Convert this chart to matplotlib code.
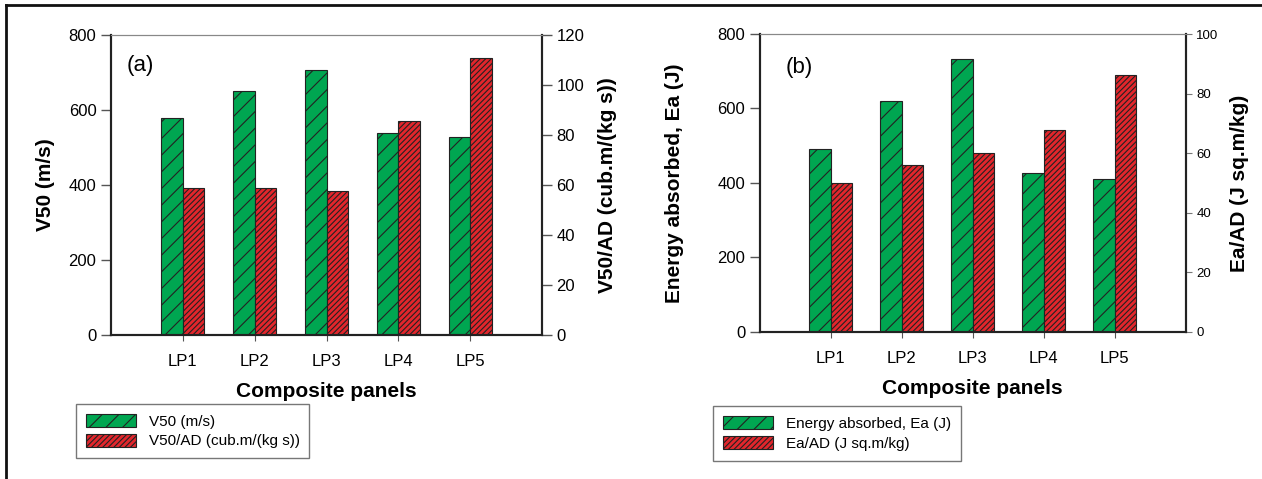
import numpy as np
import matplotlib
matplotlib.use("Agg")
import matplotlib.pyplot as plt
from matplotlib.lines import Line2D

plt.rcParams['font.family'] = ['Liberation Sans', 'DejaVu Sans']
plt.rcParams['hatch.linewidth'] = 0.8

panels = ["LP1", "LP2", "LP3", "LP4", "LP5"]

# panel (a)
v50 = [579, 650, 707, 539, 529]
v50_ad = [58.7, 58.8, 57.6, 85.6, 110.8]

# panel (b)
ea = [491, 620, 733, 427, 412]
ea_ad = [49.9, 56.1, 59.9, 67.7, 86.2]

green = "#00a651"
red = "#e2262c"
edge = "#222222"

fig = plt.figure(figsize=(12.62, 4.79), dpi=100)

x = np.arange(1, len(panels) + 1)
w = 0.3


def draw_panel(rect, left_vals, right_vals, right_lim, right_ticks,
               ylab, y2lab, tag, tag_pos, leg_labels, leg_pos, right_small,
               pad_l, pad_r):
    ax = fig.add_axes(rect)
    ax2 = ax.twinx()
    b1 = ax.bar(x - w / 2, left_vals, w, color=green, edgecolor=edge,
                hatch="//", linewidth=0.8)
    b2 = ax2.bar(x + w / 2, right_vals, w, color=red, edgecolor=edge,
                 hatch="//////", linewidth=0.8)
    ax.set_xlim(0, 6)
    ax.set_ylim(0, 800)
    ax2.set_ylim(*right_lim)
    ax.set_yticks(np.arange(0, 801, 200))
    ax2.set_yticks(right_ticks)
    ax.set_xticks(x)
    ax.set_xticklabels(panels, fontsize=12)
    ax.tick_params(axis="y", labelsize=12, direction="out", length=7,
                   width=1, color="#555555")
    ax.tick_params(axis="x", direction="out", length=4, width=0.8,
                   color="#555555", pad=10)
    if right_small:
        ax2.tick_params(axis="y", labelsize=9.5, direction="out", length=4,
                        width=0.8, color="#777777")
    else:
        ax2.tick_params(axis="y", labelsize=12, direction="out", length=7,
                        width=1, color="#555555")
    for a in (ax, ax2):
        a.spines["top"].set_color("#888888")
        a.spines["top"].set_linewidth(0.8)
        for s in ("left", "right", "bottom"):
            a.spines[s].set_color("#222222")
            a.spines[s].set_linewidth(1.5)
    ax.set_xlabel("Composite panels", fontsize=15, fontweight="bold",
                  labelpad=9)
    ax.set_ylabel(ylab, fontsize=15, fontweight="bold", labelpad=pad_l)
    ax2.set_ylabel(y2lab, fontsize=15, fontweight="bold", labelpad=pad_r)
    ax.text(tag_pos[0], tag_pos[1], tag, transform=ax.transAxes, fontsize=16,
            va="center", ha="left")
    leg = fig.legend([b1, b2], leg_labels, loc="upper left",
                     bbox_to_anchor=leg_pos, fontsize=11, frameon=True,
                     fancybox=False, edgecolor="#555555", handlelength=3.3,
                     handleheight=0.9, borderpad=0.65, labelspacing=0.35,
                     handletextpad=0.8, borderaxespad=0)
    leg.get_frame().set_linewidth(1.0)
    return ax, ax2


draw_panel([0.088, 0.3006, 0.3415, 0.626], v50, v50_ad, (0, 120),
           np.arange(0, 121, 20), "V50 (m/s)", "V50/AD (cub.m/(kg s))", "(a)",
           (0.035, 0.9), ["V50 (m/s)", "V50/AD (cub.m/(kg s))"],
           (0.0602, 0.1566), False, 10, 10)

draw_panel([0.602, 0.307, 0.3376, 0.622], ea, ea_ad, (0, 100),
           np.arange(0, 101, 20), "Energy absorbed, Ea (J)", "Ea/AD (J sq.m/kg)",
           "(b)", (0.06, 0.886), ["Energy absorbed, Ea (J)", "Ea/AD (J sq.m/kg)"],
           (0.565, 0.152), True, 24, 8)

# outer frame: top and left edges
fig.add_artist(Line2D([6 / 1262, 1], [1 - 5 / 479, 1 - 5 / 479],
                      transform=fig.transFigure, color="#111111", lw=2))
fig.add_artist(Line2D([6 / 1262, 6 / 1262], [0, 1 - 5 / 479],
                      transform=fig.transFigure, color="#111111", lw=2))

fig.savefig("out.png", dpi=100)
